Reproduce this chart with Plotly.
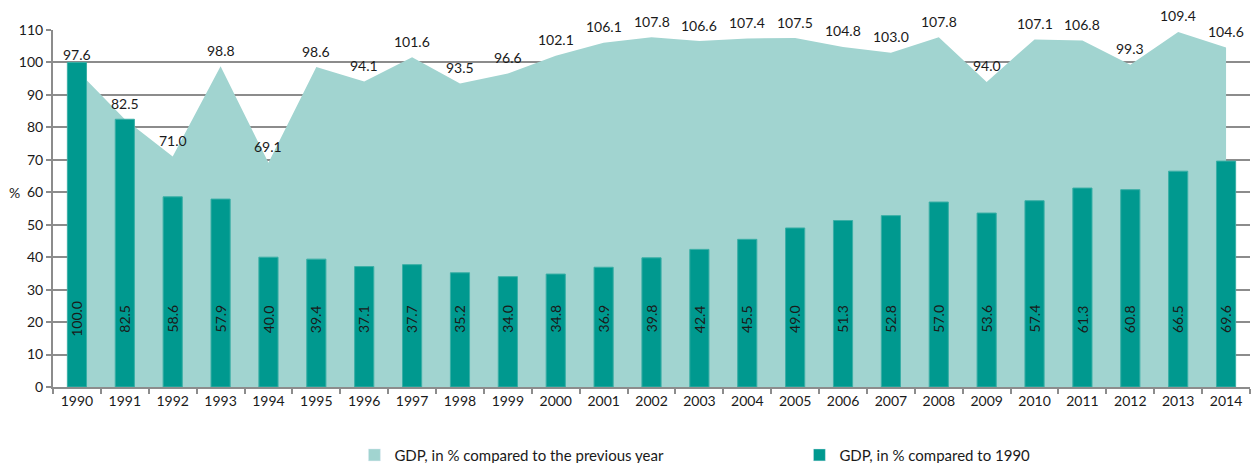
import plotly.graph_objects as go

years = [str(y) for y in range(1990, 2015)]
gdp_prev_year = [97.6, 82.5, 71.0, 98.8, 69.1, 98.6, 94.1, 101.6, 93.5, 96.6, 102.1, 106.1,
                 107.8, 106.6, 107.4, 107.5, 104.8, 103.0, 107.8, 94.0, 107.1, 106.8, 99.3,
                 109.4, 104.6]
gdp_vs_1990 = [100.0, 82.5, 58.6, 57.9, 40.0, 39.4, 37.1, 37.7, 35.2, 34.0, 34.8, 36.9,
               39.8, 42.4, 45.5, 49.0, 51.3, 52.8, 57.0, 53.6, 57.4, 61.3, 60.8, 66.5, 69.6]
name_prev = "GDP, in % compared to the previous year"
name_1990 = "GDP, in % compared to 1990"

AREA_COLOR = "#A1D4D0"
BAR_COLOR = "#00998F"
GRID = "#8C8C8C"
TEXT = "#1a1a1a"
FONT = "Lato"
BAR_LABEL_LEVEL = 21
Y_RANGE = [0, 110]

fig = go.Figure()
fig.add_trace(go.Scatter(
    x=years, y=gdp_prev_year, mode="lines", fill="tozeroy",
    line=dict(width=0, color=AREA_COLOR), fillcolor=AREA_COLOR,
    name=name_prev, showlegend=False, hoverinfo="skip", yaxis="y"))
fig.add_trace(go.Bar(
    x=years, y=gdp_vs_1990, width=0.4,
    marker=dict(color=BAR_COLOR, line=dict(color="#3AAFA6", width=1)),
    name=name_1990, showlegend=False, yaxis="y2"))
# legend entries
fig.add_trace(go.Bar(x=[None], y=[None], name=name_prev, marker_color=AREA_COLOR, yaxis="y2"))
fig.add_trace(go.Bar(x=[None], y=[None], name=name_1990, marker_color=BAR_COLOR, yaxis="y2"))

for i, v in enumerate(gdp_prev_year):
    fig.add_annotation(x=i, y=v, yref="y", text=f"{v:.1f}", yshift=16, showarrow=False,
                       font=dict(family=FONT, size=14, color=TEXT))
for i, v in enumerate(gdp_vs_1990):
    fig.add_annotation(x=i, y=BAR_LABEL_LEVEL, yref="y", text=f"{v:.1f}", textangle=-90,
                       showarrow=False, font=dict(family=FONT, size=14, color=TEXT))

fig.add_annotation(xref="paper", yref="y", x=0, xshift=-39, xanchor="center", y=60,
                   text="%", showarrow=False, font=dict(family=FONT, size=14, color=TEXT))

fig.update_layout(
    width=1259, height=463,
    margin=dict(l=53, r=9, t=30, b=76, autoexpand=False),
    plot_bgcolor="white", paper_bgcolor="white",
    font=dict(family=FONT, size=14, color=TEXT),
    barmode="overlay",
    xaxis=dict(type="category", tickson="boundaries", ticks="outside", ticklen=5,
               tickcolor=GRID, tickwidth=2, showline=True, linecolor=GRID, linewidth=2,
               showgrid=False, range=[-0.5, 24.5], tickfont=dict(size=14)),
    yaxis=dict(range=Y_RANGE, dtick=10, ticks="outside", ticklen=5, tickcolor=GRID,
               tickwidth=2, showline=True, linecolor=GRID, linewidth=2,
               showgrid=True, gridcolor=GRID, gridwidth=2, zeroline=False,
               tickfont=dict(size=14)),
    yaxis2=dict(range=Y_RANGE, overlaying="y", visible=False, showgrid=False),
    legend=dict(orientation="h", xref="container", yref="container",
                x=0.2815, xanchor="left", y=0.017, yanchor="middle",
                entrywidth=400, entrywidthmode="pixels",
                font=dict(size=15), traceorder="normal"),
)

fig.write_html("out.html", config={"displayModeBar": False},
               post_script="document.body.style.margin='0';")
